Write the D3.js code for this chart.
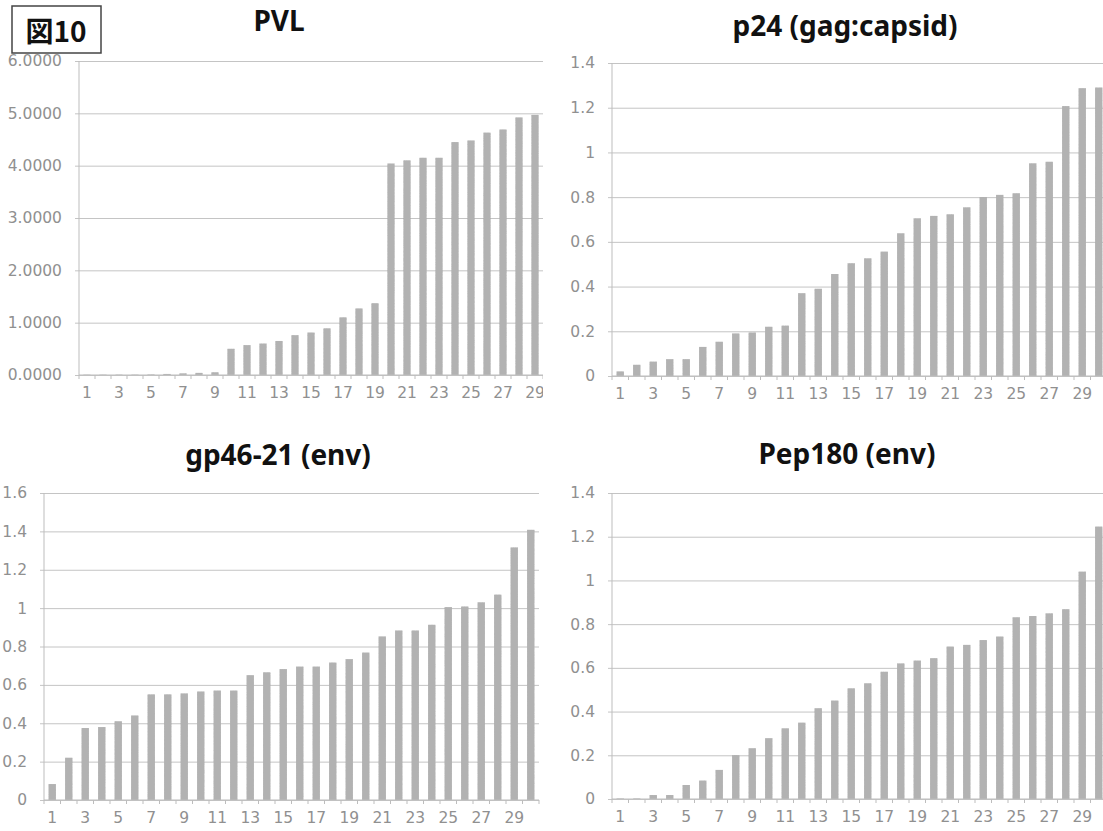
<!DOCTYPE html>
<html>
<head>
<meta charset="utf-8">
<script src="https://cdnjs.cloudflare.com/ajax/libs/d3/7.8.5/d3.min.js"></script>
<style>
  body { margin: 0; background: #fff; }
  svg { display: block; }
  .tick text { font-family: "DejaVu Sans", sans-serif; fill: #909090; }
  .title { font-family: "Noto Sans", "Noto Sans CJK JP", sans-serif; font-weight: bold; fill: #111; }
</style>
</head>
<body>
<svg id="chart" width="1103" height="831"></svg>
<script>
// categories 1..30, only the odd ones are labelled
const cats = [1, 2, 3, 4, 5, 6, 7, 8, 9, 10, 11, 12, 13, 14, 15, 16, 17, 18, 19, 20, 21, 22, 23, 24, 25, 26, 27, 28, 29, 30];
const catLabels = [1, 3, 5, 7, 9, 11, 13, 15, 17, 19, 21, 23, 25, 27, 29];

// values
const pvl = [0.005, 0.005, 0.005, 0.005, 0.008, 0.02, 0.03, 0.04, 0.05, 0.50,
  0.57, 0.60, 0.65, 0.76, 0.81, 0.89, 1.10, 1.27, 1.37, 4.04,
  4.10, 4.15, 4.15, 4.45, 4.48, 4.63, 4.69, 4.92, 4.97];
const p24 = [0.02, 0.05, 0.064, 0.075, 0.075, 0.13, 0.153, 0.19, 0.194, 0.22,
  0.225, 0.37, 0.39, 0.456, 0.504, 0.526, 0.556, 0.638, 0.705, 0.716,
  0.723, 0.754, 0.80, 0.81, 0.817, 0.951, 0.958, 1.207, 1.287, 1.29];
const gp46 = [0.083, 0.22, 0.375, 0.38, 0.41, 0.44, 0.55, 0.55, 0.555, 0.565,
  0.57, 0.57, 0.65, 0.665, 0.682, 0.695, 0.695, 0.716, 0.734, 0.768,
  0.852, 0.883, 0.883, 0.913, 1.005, 1.008, 1.03, 1.07, 1.316, 1.408];
const pep180 = [0.002, 0.002, 0.018, 0.018, 0.064, 0.084, 0.133, 0.20, 0.232, 0.278,
  0.323, 0.349, 0.415, 0.45, 0.506, 0.529, 0.582, 0.62, 0.633, 0.644,
  0.697, 0.705, 0.727, 0.743, 0.831, 0.837, 0.849, 0.868, 1.04, 1.246];

const pvlTicks = [0, 1, 2, 3, 4, 5, 6];
const smallTicks = [0, 0.2, 0.4, 0.6, 0.8, 1, 1.2, 1.4];
const gpTicks = [0, 0.2, 0.4, 0.6, 0.8, 1, 1.2, 1.4, 1.6];

const titles = ['PVL', 'p24 (gag:capsid)', 'gp46-21 (env)', 'Pep180 (env)'];

// panel layout (pixels)
const panels = [
  { title: titles[0], values: pvl, ticks: pvlTicks, fmt: d3.format('.4f'),
    x0: 79, x1: 559, clip: 543, y0: 375, y1: 61, tx: 279, ty: 31 },
  { title: titles[1], values: p24, ticks: smallTicks, fmt: d => String(d),
    x0: 612, x1: 1107, clip: 1103, y0: 376, y1: 63, tx: 845, ty: 36 },
  { title: titles[2], values: gp46, ticks: gpTicks, fmt: d => String(d),
    x0: 44, x1: 539, clip: 541, y0: 800, y1: 493, tx: 278, ty: 465 },
  { title: titles[3], values: pep180, ticks: smallTicks, fmt: d => String(d),
    x0: 612, x1: 1107, clip: 1103, y0: 799, y1: 493, tx: 847, ty: 464 }
];

const svg = d3.select('#chart');
const defs = svg.append('defs');

// scanned-print grain on the bars
const grain = defs.append('filter').attr('id', 'grain')
  .attr('x', 0).attr('y', 0).attr('width', 1).attr('height', 1);
grain.append('feTurbulence')
  .attr('type', 'fractalNoise')
  .attr('baseFrequency', 0.9)
  .attr('numOctaves', 1)
  .attr('seed', 3)
  .attr('result', 'noise');
grain.append('feColorMatrix')
  .attr('in', 'noise')
  .attr('type', 'matrix')
  .attr('values', '0 0 0 0 0  0 0 0 0 0  0 0 0 0 0  0 0 0 0.55 0')
  .attr('result', 'dots');
grain.append('feComposite')
  .attr('in', 'dots')
  .attr('in2', 'SourceGraphic')
  .attr('operator', 'in')
  .attr('result', 'dotsIn');
grain.append('feBlend')
  .attr('in', 'SourceGraphic')
  .attr('in2', 'dotsIn')
  .attr('mode', 'normal');

panels.forEach((p, i) => {
  const x = d3.scaleBand()
    .domain(cats)
    .range([p.x0, p.x1])
    .paddingInner(0.56)
    .paddingOuter(0.28);

  const y = d3.scaleLinear()
    .domain([0, d3.max(p.ticks)])
    .range([p.y0, p.y1]);

  defs.append('clipPath')
    .attr('id', 'clip' + i)
    .append('rect')
    .attr('x', 0)
    .attr('y', p.y1 - 40)
    .attr('width', p.clip)
    .attr('height', p.y0 - p.y1 + 80);

  const g = svg.append('g').attr('clip-path', `url(#clip${i})`);

  // gridlines + y labels
  const yAxis = d3.axisLeft(y)
    .tickValues(p.ticks)
    .tickFormat(p.fmt)
    .tickSize(-(p.x1 - p.x0) - 4)
    .tickPadding(13);

  const yg = g.append('g')
    .attr('transform', `translate(${p.x0 - 4},0)`)
    .call(yAxis);
  yg.select('.domain').remove();
  yg.selectAll('.tick line')
    .attr('stroke', '#c4c4c4')
    .attr('stroke-width', 1);
  yg.selectAll('.tick text')
    .attr('font-size', 15.5)
    .attr('x', -13);

  // left axis line
  g.append('line')
    .attr('x1', p.x0).attr('x2', p.x0)
    .attr('y1', p.y1).attr('y2', p.y0 + 4)
    .attr('stroke', '#bdbdbd');

  // bars
  g.selectAll('rect.bar')
    .data(p.values)
    .join('rect')
    .attr('class', 'bar')
    .attr('x', (d, j) => x(cats[j]))
    .attr('width', x.bandwidth())
    .attr('y', d => y(d))
    .attr('height', d => y(0) - y(d))
    .attr('fill', '#b2b2b2')
    .attr('filter', 'url(#grain)');

  // baseline with little ticks between categories
  g.append('line')
    .attr('x1', p.x0).attr('x2', p.x1)
    .attr('y1', p.y0).attr('y2', p.y0)
    .attr('stroke', '#bdbdbd');
  g.selectAll('line.ct')
    .data(cats)
    .join('line')
    .attr('class', 'ct')
    .attr('x1', d => x(d) + x.bandwidth() / 2 + x.step() / 2)
    .attr('x2', d => x(d) + x.bandwidth() / 2 + x.step() / 2)
    .attr('y1', p.y0)
    .attr('y2', p.y0 + 4)
    .attr('stroke', '#bdbdbd');

  // x labels
  const xAxis = d3.axisBottom(x)
    .tickValues(catLabels)
    .tickSize(0)
    .tickPadding(12);
  const xg = g.append('g')
    .attr('transform', `translate(0,${p.y0})`)
    .call(xAxis);
  xg.select('.domain').remove();
  xg.selectAll('.tick text').attr('font-size', 15.5);

  // title
  svg.append('text')
    .attr('class', 'title')
    .attr('x', p.tx)
    .attr('y', p.ty)
    .attr('text-anchor', 'middle')
    .attr('font-size', 28)
    .text(p.title);
});

// figure label
svg.append('rect')
  .attr('x', 12).attr('y', 6)
  .attr('width', 89).attr('height', 47)
  .attr('fill', 'none')
  .attr('stroke', '#444')
  .attr('stroke-width', 1.5);
svg.append('text')
  .attr('x', 56).attr('y', 42)
  .attr('text-anchor', 'middle')
  .attr('font-family', '"Noto Sans CJK JP", sans-serif')
  .attr('font-weight', 'bold')
  .attr('font-size', 28)
  .attr('fill', '#111')
  .text('図10');
</script>
</body>
</html>
